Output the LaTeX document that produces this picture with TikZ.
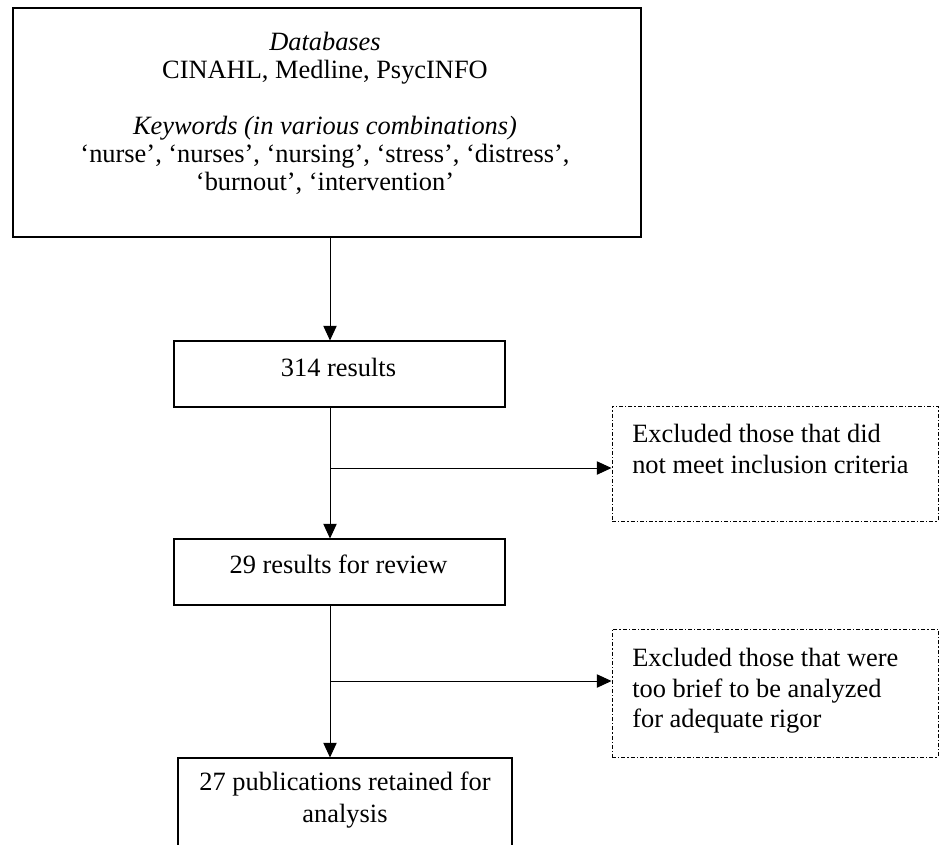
\documentclass[tikz,border=0pt]{standalone}
\usepackage{fontspec}
\setmainfont{Liberation Serif}
\usetikzlibrary{arrows.meta}
\begin{document}
\begin{tikzpicture}[x=0.75pt,y=-0.75pt,
  box/.style={draw, line width=0.8pt, inner sep=0pt},
  dbox/.style={draw, line width=0.75pt, dash pattern=on 3pt off 1.6pt on 0.8pt off 1.6pt, inner sep=0pt},
  txt/.style={inner sep=0pt, font=\fontsize{19.8}{22.8}\selectfont},
  arr/.style={line width=0.75pt, -{Triangle[length=11pt,width=10pt]}}]
\useasboundingbox (0,0) rectangle (945,844);
\clip (0,0) rectangle (945,844);
\fill[white] (0,0) rectangle (945,844);
\coordinate (spine) at (330,0);
% boxes
\node[box, line width=1pt, minimum width={628*0.75pt}, minimum height={229*0.75pt}] (top) at (327,122.5) {};
\node[box, minimum width={331*0.75pt}, minimum height={66*0.75pt}] (r314) at (339.5,374) {};
\node[box, minimum width={331*0.75pt}, minimum height={66*0.75pt}] (r29) at (339.5,572) {};
\node[box, minimum width={334*0.75pt}, minimum height={112*0.75pt}] (r27) at (345,814) {};
\node[dbox, minimum width={326*0.75pt}, minimum height={115*0.75pt}] (ex1) at (775,463.5) {};
\node[dbox, minimum width={326*0.75pt}, minimum height={128*0.75pt}] (ex2) at (775,693) {};
% texts
\node[txt, align=center, anchor=north, font=\fontsize{19.8}{21}\selectfont] (toptxt) at (325,32)
  {\textit{Databases}\\CINAHL, Medline, PsycINFO\\[21pt]\textit{Keywords (in various combinations)}\\‘nurse’, ‘nurses’, ‘nursing’, ‘stress’, ‘distress’,\\‘burnout’, ‘intervention’};
\node[txt, anchor=base] (t314) at (338.5,376) {314 results};
\node[txt, anchor=base] (t29) at (338.5,573) {29 results for review};
\node[txt, align=center, anchor=north, font=\fontsize{19.8}{24}\selectfont] (t27) at (345,772)
  {27 publications retained for\\analysis};
\node[txt, align=left, anchor=north west, font=\fontsize{19.8}{23.2}\selectfont] (tex1) at (632,424)
  {Excluded those that did\\not meet inclusion criteria};
\node[txt, align=left, anchor=north west, font=\fontsize{19.8}{22.9}\selectfont] (tex2) at (632,648)
  {Excluded those that were\\too brief to be analyzed\\for adequate rigor};
% connectors
\coordinate (b1) at (330,468);
\coordinate (b2) at (330,681);
\draw[arr] (top.south -| spine) -- (r314.north -| spine);
\draw[arr] (r314.south -| spine) -- (r29.north -| spine);
\draw[arr] (b1) -- (ex1.west |- b1);
\draw[arr] (r29.south -| spine) -- (r27.north -| spine);
\draw[arr] (b2) -- (ex2.west |- b2);
\end{tikzpicture}
\end{document}
